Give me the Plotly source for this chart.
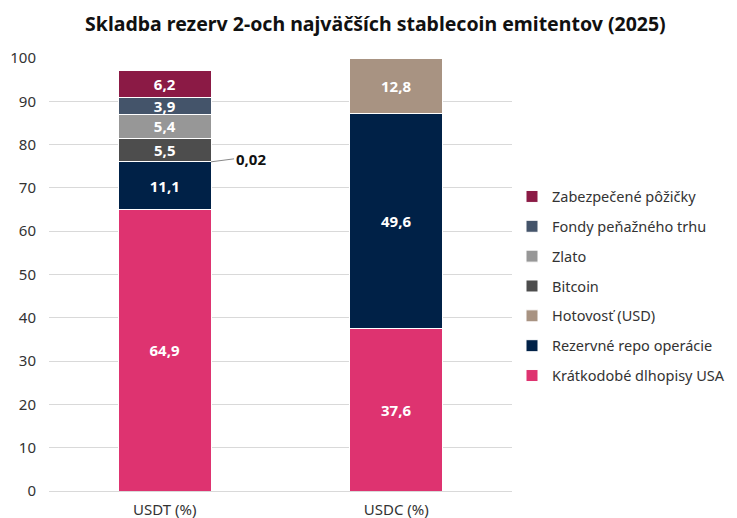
import plotly.graph_objects as go

categories = ["USDT (%)", "USDC (%)"]
series_names = [
    "Krátkodobé dlhopisy USA",
    "Rezervné repo operácie",
    "Hotovosť (USD)",
    "Bitcoin",
    "Zlato",
    "Fondy peňažného trhu",
    "Zabezpečené pôžičky",
]
usdt_values = [64.9, 11.1, 0.02, 5.5, 5.4, 3.9, 6.2]
usdc_values = [37.6, 49.6, 12.8, 0, 0, 0, 0]
colors = ["#DE3370", "#002147", "#A89382", "#4D4D4D", "#979797", "#44546A", "#8B1A45"]

FONT = "Noto Sans"

# page body has an 8px default margin; the figure is sized to fit the 737x518 window
W, H = 729, 510

fig = go.Figure()
n = len(series_names)
for i, name in enumerate(series_names):
    vals = [usdt_values[i], usdc_values[i]]
    texts = []
    for v in vals:
        if v >= 1:
            texts.append(f"{v:.1f}".replace(".", ","))
        else:
            texts.append("")
    fig.add_trace(go.Bar(
        name=name,
        x=categories,
        y=vals,
        marker=dict(color=colors[i], line=dict(color="white", width=1)),
        text=texts,
        textposition="inside",
        insidetextanchor="middle",
        textangle=0,
        textfont=dict(family=FONT, size=15, color="white", weight="bold"),
        width=0.4,
        legendgroup=name,
        legendrank=n - i,
        hoverinfo="skip",
    ))

# small label for 0,02 with leader line
small_val = usdt_values[2]
base = usdt_values[0] + usdt_values[1]
fig.add_annotation(
    x=0.2, y=base + small_val, xref="x", yref="y",
    text="<b>" + f"{small_val:.2f}".replace(".", ",") + "</b>",
    showarrow=True, arrowhead=0, arrowwidth=1, arrowcolor="#888888",
    ax=23, ay=-3, standoff=0,
    font=dict(family=FONT, size=15, color="#111111"),
    xanchor="left",
)

fig.update_layout(
    width=W, height=H,
    barmode="stack",
    separators=", ",
    plot_bgcolor="white", paper_bgcolor="white",
    margin=dict(l=41, r=225, t=50, b=27, autoexpand=False),
    title=dict(text="<b>Skladba rezerv 2-och najväčších stablecoin emitentov (2025)</b>",
               x=0.504, xanchor="center", y=0.9686, yanchor="middle",
               font=dict(family=FONT, size=19.5, color="#111111")),
    font=dict(family=FONT, size=15, color="#333333"),
    uniformtext=dict(minsize=15, mode="show"),
    legend=dict(traceorder="grouped", x=1.0, xanchor="left", y=0.4734, yanchor="middle",
                font=dict(family=FONT, size=14.5, color="#333333"),
                tracegroupgap=8, itemwidth=30, bgcolor="rgba(0,0,0,0)"),
    bargap=0.6,
)
fig.update_xaxes(showline=False, ticks="", automargin=False, ticklabelstandoff=8,
                 tickfont=dict(size=15, color="#333333"))
fig.update_yaxes(range=[0, 100], dtick=10, showgrid=True, gridcolor="#D9D9D9", gridwidth=1,
                 zeroline=True, zerolinecolor="#D9D9D9", zerolinewidth=1, automargin=False,
                 ticks="", ticklabelstandoff=12, tickfont=dict(size=15, color="#333333"))

fig.write_html("out.html")
